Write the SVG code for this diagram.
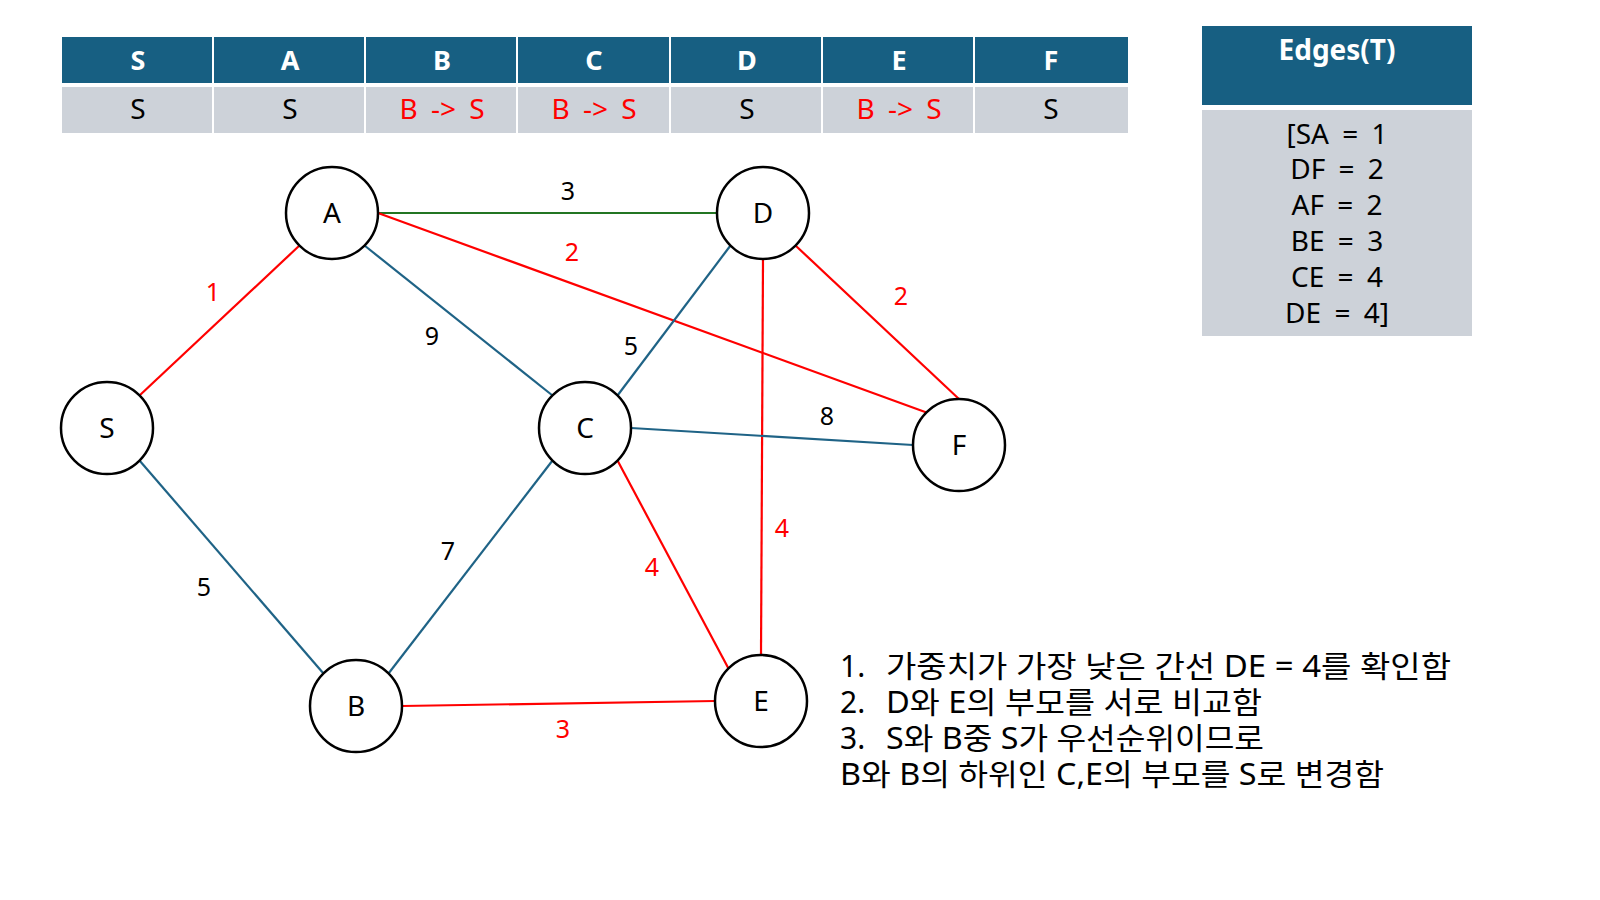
<svg xmlns="http://www.w3.org/2000/svg" width="1600" height="900" viewBox="0 0 1600 900">
<style>
.hd{fill:#175F82}
.cell{fill:#CDD2D9}
.ht{font-family:"Noto Sans","Noto Sans CJK KR",sans-serif;font-size:27px;font-weight:bold;fill:#fff;text-anchor:middle}
.ct{font-family:"Noto Sans","Noto Sans CJK KR",sans-serif;font-size:28px;fill:#000;text-anchor:middle;word-spacing:6px}
.red{fill:#FF0000}
.node circle{fill:#fff;stroke:#000;stroke-width:2.5}
.node text{font-family:"Noto Sans","Noto Sans CJK KR",sans-serif;font-size:28px;fill:#000;text-anchor:middle}
.e{stroke-width:2.2;fill:none}
.er{stroke:#FF0000}
.eb{stroke:#1F6386}
.eg{stroke:#237523}
.lb{font-family:"Noto Sans","Noto Sans CJK KR",sans-serif;font-size:25px;text-anchor:middle}
.note{font-family:"Noto Sans","Noto Sans CJK KR",sans-serif;font-size:30px;fill:#000}
</style>
<rect width="1600" height="900" fill="#fff"/>
<g id="table">
<rect class="hd" x="62" y="37" width="150" height="46"/>
<rect class="hd" x="214" y="37" width="150" height="46"/>
<rect class="hd" x="366" y="37" width="150" height="46"/>
<rect class="hd" x="518" y="37" width="151" height="46"/>
<rect class="hd" x="671" y="37" width="150" height="46"/>
<rect class="hd" x="823" y="37" width="150" height="46"/>
<rect class="hd" x="975" y="37" width="153" height="46"/>
<rect class="cell" x="62" y="87" width="150" height="46"/>
<rect class="cell" x="214" y="87" width="150" height="46"/>
<rect class="cell" x="366" y="87" width="150" height="46"/>
<rect class="cell" x="518" y="87" width="151" height="46"/>
<rect class="cell" x="671" y="87" width="150" height="46"/>
<rect class="cell" x="823" y="87" width="150" height="46"/>
<rect class="cell" x="975" y="87" width="153" height="46"/>
<text class="ht" x="138" y="70">S</text>
<text class="ht" x="290" y="70">A</text>
<text class="ht" x="442" y="70">B</text>
<text class="ht" x="594" y="70">C</text>
<text class="ht" x="747" y="70">D</text>
<text class="ht" x="899" y="70">E</text>
<text class="ht" x="1051" y="70">F</text>
<text class="ct" x="138" y="119">S</text>
<text class="ct" x="290" y="119">S</text>
<text class="ct red" x="442" y="119">B -&gt; S</text>
<text class="ct red" x="594" y="119">B -&gt; S</text>
<text class="ct" x="747" y="119">S</text>
<text class="ct red" x="899" y="119">B -&gt; S</text>
<text class="ct" x="1051" y="119">S</text>
</g>
<g id="edges-table">
<rect class="hd" x="1202" y="26" width="270" height="79"/>
<rect class="cell" x="1202" y="110" width="270" height="226"/>
<text class="ht" x="1337" y="60" style="font-size:28px">Edges(T)</text>
<text class="ct" x="1337" y="144">[SA = 1</text>
<text class="ct" x="1337" y="179">DF = 2</text>
<text class="ct" x="1337" y="215">AF = 2</text>
<text class="ct" x="1337" y="251">BE = 3</text>
<text class="ct" x="1337" y="287">CE = 4</text>
<text class="ct" x="1337" y="323">DE = 4]</text>
</g>
<g id="connectors">
<line class="e er" x1="139.5" y1="395.5" x2="299.5" y2="245.5"/>
<line class="e eg" x1="378" y1="213" x2="717" y2="213"/>
<line class="e er" x1="378" y1="213" x2="926.5" y2="412.5"/>
<line class="e eb" x1="364.5" y1="245.5" x2="552.5" y2="395.5"/>
<line class="e eb" x1="730.5" y1="245.5" x2="617.5" y2="395.5"/>
<line class="e er" x1="795.5" y1="245.5" x2="959" y2="399"/>
<line class="e er" x1="763" y1="259" x2="761" y2="655"/>
<line class="e eb" x1="631" y1="428" x2="913" y2="445"/>
<line class="e er" x1="617.5" y1="460.5" x2="728.5" y2="668.5"/>
<line class="e eb" x1="552.5" y1="460.5" x2="388.5" y2="673.5"/>
<line class="e eb" x1="139.5" y1="460.5" x2="323.5" y2="673.5"/>
<line class="e er" x1="402" y1="706" x2="715" y2="701"/>
<text class="lb red" x="213" y="301">1</text>
<text class="lb" x="568" y="200">3</text>
<text class="lb red" x="572" y="261">2</text>
<text class="lb" x="432" y="345">9</text>
<text class="lb" x="631" y="355">5</text>
<text class="lb red" x="901" y="305">2</text>
<text class="lb" x="827" y="425">8</text>
<text class="lb" x="204" y="596">5</text>
<text class="lb" x="448" y="560">7</text>
<text class="lb red" x="652" y="576">4</text>
<text class="lb red" x="782" y="537">4</text>
<text class="lb red" x="563" y="738">3</text>
</g>
<g id="node-A" class="node"><circle cx="332" cy="213" r="46"/><text x="332" y="223">A</text></g>
<g id="node-D" class="node"><circle cx="763" cy="213" r="46"/><text x="763" y="223">D</text></g>
<g id="node-S" class="node"><circle cx="107" cy="428" r="46"/><text x="107" y="438">S</text></g>
<g id="node-C" class="node"><circle cx="585" cy="428" r="46"/><text x="585" y="438">C</text></g>
<g id="node-F" class="node"><circle cx="959" cy="445" r="46"/><text x="959" y="455">F</text></g>
<g id="node-B" class="node"><circle cx="356" cy="706" r="46"/><text x="356" y="716">B</text></g>
<g id="node-E" class="node"><circle cx="761" cy="701" r="46"/><text x="761" y="711">E</text></g>
<g id="notes">
<text class="note" x="840" y="677">1.</text>
<text class="note" x="886" y="677" textLength="565" lengthAdjust="spacingAndGlyphs">가중치가 가장 낮은 간선 DE = 4를 확인함</text>
<text class="note" x="840" y="713">2.</text>
<text class="note" x="886" y="713" textLength="376" lengthAdjust="spacingAndGlyphs">D와 E의 부모를 서로 비교함</text>
<text class="note" x="840" y="749">3.</text>
<text class="note" x="886" y="749" textLength="378" lengthAdjust="spacingAndGlyphs">S와 B중 S가 우선순위이므로</text>
<text class="note" x="840" y="785" textLength="544" lengthAdjust="spacingAndGlyphs">B와 B의 하위인 C,E의 부모를 S로 변경함</text>
</g>
</svg>
